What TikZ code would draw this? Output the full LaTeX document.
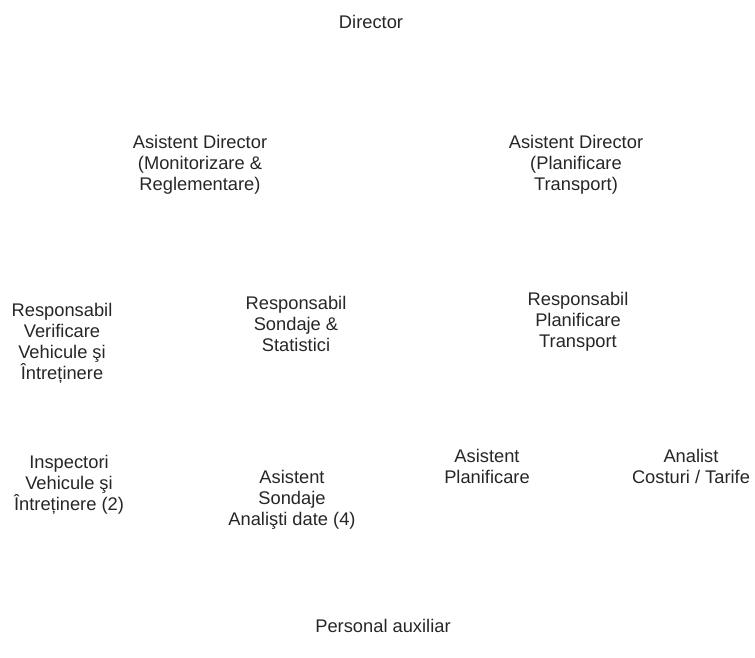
\documentclass[tikz,border=0pt]{standalone}
\usepackage{fontspec}
\setmainfont{Liberation Sans}
\begin{document}
\begin{tikzpicture}[x=1pt,y=-1pt,
  lbl/.style={align=center,inner sep=0pt,text=black!85,font=\fontsize{18.3}{21}\selectfont}]
\useasboundingbox (0,0) rectangle (755,657);
\node[lbl] (dir) at (371,22) {Director};
\node[lbl] (adm) at (200,165) {Asistent Director\\(Monitorizare \&\\Reglementare)};
\node[lbl] (adp) at (576,165) {Asistent Director\\(Planificare\\Transport)};
\node[lbl] (rvv) at (62,343) {Responsabil\\Verificare\\Vehicule şi\\Întreținere};
\node[lbl] (rss) at (296,324) {Responsabil\\Sondaje \&\\Statistici};
\node[lbl] (rpt) at (578,322) {Responsabil\\Planificare\\Transport};
\node[lbl] (ivi) at (69,485) {Inspectori\\Vehicule şi\\Întreținere (2)};
\node[lbl] (asa) at (292,500) {Asistent\\Sondaje\\Analişti date (4)};
\node[lbl] (apl) at (487,466) {Asistent\\Planificare};
\node[lbl] (act) at (691,466) {Analist\\Costuri / Tarife};
\node[lbl] (pa) at (383,626) {Personal auxiliar};
\end{tikzpicture}
\end{document}
